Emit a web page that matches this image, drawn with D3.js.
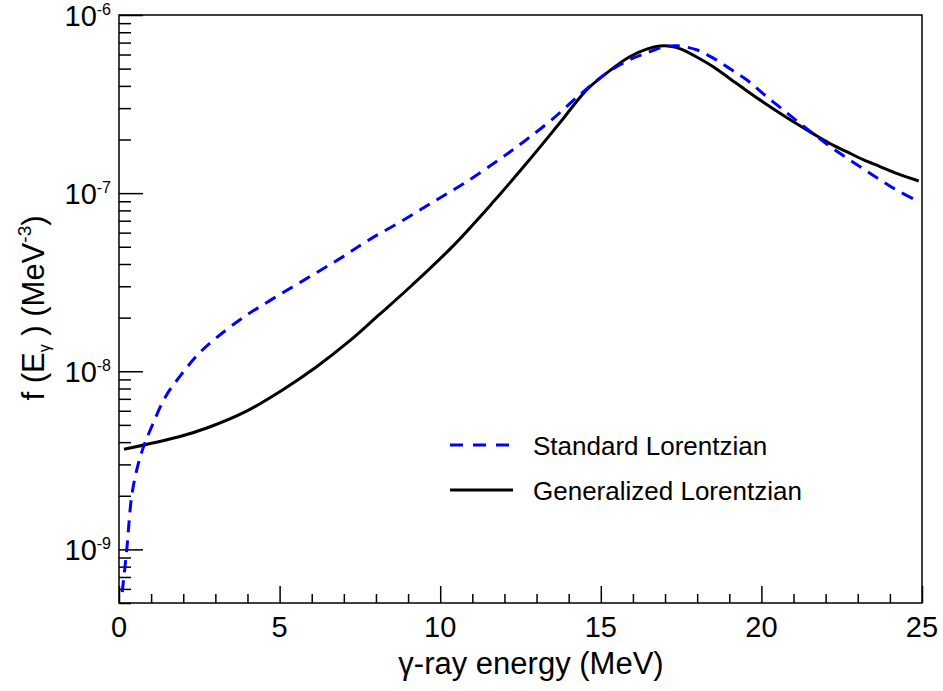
<!DOCTYPE html>
<html>
<head>
<meta charset="utf-8">
<script src="https://cdn.jsdelivr.net/npm/d3@7"></script>
<style>
  html, body { margin: 0; padding: 0; background: #fff; }
  svg { display: block; font-family: "Liberation Sans", Arial, Helvetica, sans-serif; }
</style>
</head>
<body>
<svg id="chart" width="943" height="691"></svg>
<script>
// ---- data ----
const stdEnergy = [0.1, 0.24, 0.39, 0.55, 0.76, 1.04, 1.45, 1.97, 2.49, 3.01, 3.84, 4.77, 5.81, 6.85, 7.78, 8.82, 9.86, 10.79, 11.83, 12.61, 13.47, 14.35, 15.18, 15.9, 16.43, 16.95, 17.36, 17.98, 18.5, 19.02, 19.54, 20.06, 20.58, 21.1, 21.62, 22.13, 22.65, 23.17, 23.69, 24.21, 24.89];
const stdValues = [5.76e-10, 9.88e-10, 1.96e-9, 2.78e-9, 3.75e-9, 4.99e-9, 7.20e-9, 9.74e-9, 1.26e-8, 1.53e-8, 1.99e-8, 2.54e-8, 3.29e-8, 4.26e-8, 5.46e-8, 7.00e-8, 9.10e-8, 1.15e-7, 1.54e-7, 1.95e-7, 2.58e-7, 3.57e-7, 4.72e-7, 5.61e-7, 6.12e-7, 6.61e-7, 6.72e-7, 6.38e-7, 5.73e-7, 4.99e-7, 4.33e-7, 3.61e-7, 3.03e-7, 2.55e-7, 2.15e-7, 1.83e-7, 1.58e-7, 1.37e-7, 1.19e-7, 1.04e-7, 8.97e-8];

const genEnergy = [0.156, 1.87, 2.80, 3.94, 5.09, 6.12, 7.16, 8.09, 9.13, 10.38, 11.62, 12.7, 13.7, 14.56, 15.18, 15.9, 16.43, 16.84, 17.26, 17.5, 18.0, 18.5, 19.02, 19.54, 20.06, 20.58, 21.1, 21.62, 22.13, 22.65, 23.17, 23.69, 24.21, 24.9];
const genValues = [3.65e-9, 4.29e-9, 4.85e-9, 5.93e-9, 7.85e-9, 1.05e-8, 1.47e-8, 2.07e-8, 3.05e-8, 5.01e-8, 8.79e-8, 1.48e-7, 2.45e-7, 3.80e-7, 4.72e-7, 5.83e-7, 6.43e-7, 6.70e-7, 6.64e-7, 6.43e-7, 5.79e-7, 5.12e-7, 4.39e-7, 3.76e-7, 3.24e-7, 2.81e-7, 2.45e-7, 2.15e-7, 1.90e-7, 1.71e-7, 1.54e-7, 1.41e-7, 1.29e-7, 1.17e-7];

const xTickLabels = [0, 5, 10, 15, 20, 25];
const yTickExponents = [-9, -8, -7, -6];
const seriesNames = ["Standard Lorentzian", "Generalized Lorentzian"];

// ---- layout ----
const svg = d3.select("#chart");
const L = 119, R = 922, T = 15, B = 603;

const x = d3.scaleLinear().domain([0, 25]).range([L, R]);
const y = d3.scaleLog().domain([5e-10, 1e-6]).range([B, T]);

svg.append("rect").attr("width", 943).attr("height", 691).attr("fill", "#fff");

// frame
svg.append("rect")
  .attr("x", L).attr("y", T).attr("width", R - L).attr("height", B - T)
  .attr("fill", "none").attr("stroke", "#000").attr("stroke-width", 1.5);

// x axis ticks
const xMinor = d3.range(0, 26, 1).filter(v => v % 5 !== 0);
const xAxisMinor = d3.axisBottom(x).tickValues(xMinor).tickSize(-9).tickFormat("");
const xAxisMajor = d3.axisBottom(x).tickValues(xTickLabels).tickSize(-17).tickFormat("");
[xAxisMinor, xAxisMajor].forEach(ax => {
  const g = svg.append("g").attr("transform", `translate(0,${B})`).call(ax);
  g.select(".domain").remove();
  g.selectAll("line").attr("stroke", "#000").attr("stroke-width", 1.5);
});

// y axis ticks
const yMajor = yTickExponents.map(e => Math.pow(10, e));
const yMinor = [];
[-10, -9, -8, -7].forEach(e => {
  for (let k = 2; k <= 9; k++) {
    const v = k * Math.pow(10, e);
    if (v >= 5e-10 && v <= 1e-6) yMinor.push(v);
  }
});
const yAxisMinor = d3.axisLeft(y).tickValues(yMinor).tickSize(-12).tickFormat("");
const yAxisMajor = d3.axisLeft(y).tickValues(yMajor).tickSize(-24).tickFormat("");
[yAxisMinor, yAxisMajor].forEach(ax => {
  const g = svg.append("g").attr("transform", `translate(${L},0)`).call(ax);
  g.select(".domain").remove();
  g.selectAll("line").attr("stroke", "#000").attr("stroke-width", 1.5);
});

// x tick labels
svg.append("g").selectAll("text").data(xTickLabels).join("text")
  .attr("x", d => x(d)).attr("y", 637)
  .attr("text-anchor", "middle")
  .attr("font-size", 29)
  .text(d => d);

// y tick labels: 10^e
const yl = svg.append("g").selectAll("text").data(yTickExponents).join("text")
  .attr("x", 111).attr("y", d => y(Math.pow(10, d)) + 11)
  .attr("text-anchor", "end")
  .attr("font-size", 29);
yl.append("tspan").text("10");
yl.append("tspan").attr("font-size", 16).attr("dy", -11).text(d => d);

// axis titles
const xt = svg.append("text")
  .attr("x", 531).attr("y", 674)
  .attr("text-anchor", "middle")
  .attr("font-size", 31);
xt.append("tspan").text("γ-ray energy (MeV)");

const yt = svg.append("text")
  .attr("transform", "translate(44,308) rotate(-90)")
  .attr("text-anchor", "middle")
  .attr("font-size", 31);
yt.append("tspan").text("f (E");
yt.append("tspan").attr("font-size", 16).attr("dy", 6).text("γ");
yt.append("tspan").attr("dy", -6).text(" ) (MeV");
yt.append("tspan").attr("font-size", 19).attr("dy", -13).text("-3");
yt.append("tspan").attr("dy", 13).text(")");

// curves
const line = d3.line()
  .x(d => x(d[0]))
  .y(d => y(d[1]))
  .curve(d3.curveCatmullRom.alpha(0.5));

const stdData = stdEnergy.map((e, i) => [e, stdValues[i]]);
const genData = genEnergy.map((e, i) => [e, genValues[i]]);

svg.append("path").datum(genData)
  .attr("d", line)
  .attr("fill", "none").attr("stroke", "#000").attr("stroke-width", 3);

svg.append("path").datum(stdData)
  .attr("d", line)
  .attr("fill", "none").attr("stroke", "#0000ff").attr("stroke-width", 3)
  .attr("stroke-dasharray", "12,8");

// legend
const legend = svg.append("g");
const legItems = [
  { name: seriesNames[0], color: "#0000ff", dash: "13,10", y: 445 },
  { name: seriesNames[1], color: "#000", dash: null, y: 490 }
];
legItems.forEach(it => {
  legend.append("line")
    .attr("x1", 450).attr("x2", 513).attr("y1", it.y).attr("y2", it.y)
    .attr("stroke", it.color).attr("stroke-width", 3)
    .attr("stroke-dasharray", it.dash);
  legend.append("text")
    .attr("x", 533).attr("y", it.y + 10)
    .attr("font-size", 26)
    .text(it.name);
});
</script>
</body>
</html>
